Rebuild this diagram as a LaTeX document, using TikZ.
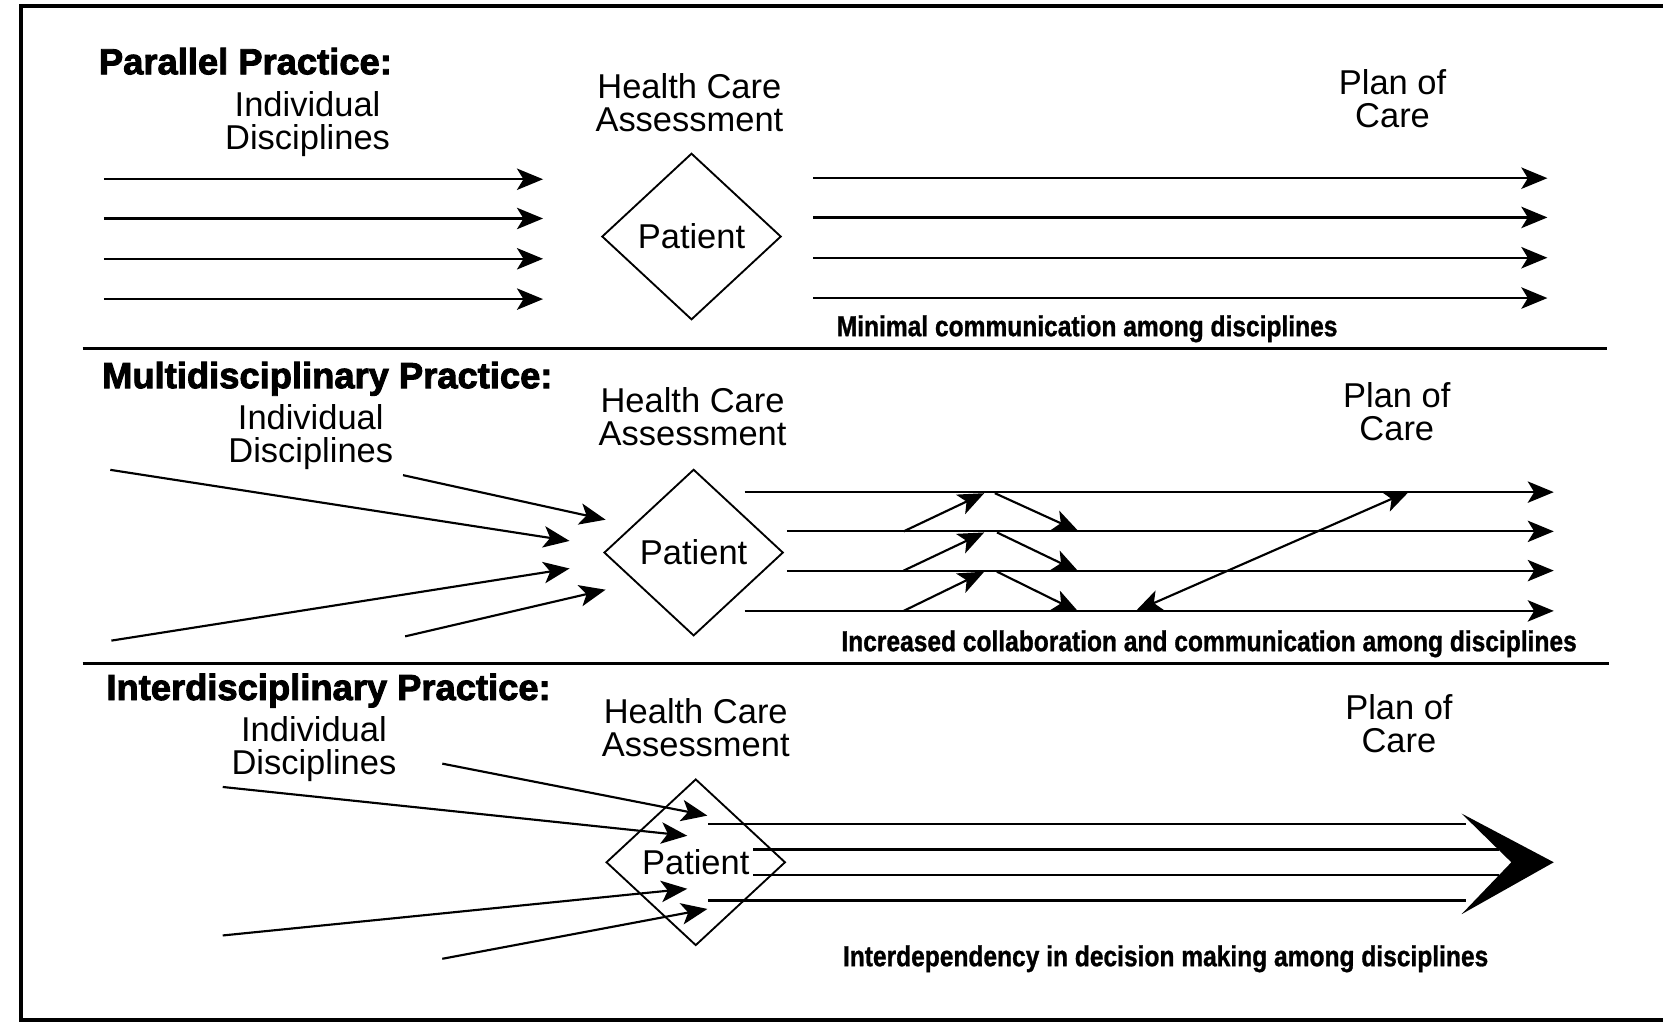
\documentclass[tikz,border=0pt]{standalone}
\usepackage{fontspec}
\setmainfont{Liberation Sans}
\newfontfamily\headfont[BoldFeatures={FakeBold=2.5}]{Liberation Sans}
\newfontfamily\notefont[FakeStretch=0.85, BoldFeatures={FakeBold=1}]{Liberation Sans}
\usetikzlibrary{arrows.meta, shapes.geometric}

\tikzset{
    lbl/.style={align=center, inner sep=0pt, font=\fontsize{18.5}{17.6}\selectfont},
    head/.style={anchor=base west, inner sep=0pt, font=\headfont\fontsize{19.5}{22}\selectfont\bfseries},
    note/.style={inner sep=0pt, font=\notefont\fontsize{15.5}{18}\selectfont\bfseries},
    pat/.style={diamond, draw, line width=1pt, inner sep=0pt, minimum width=3.38cm, minimum height=3.14cm, font=\fontsize{18.5}{20}\selectfont},
    tip/.tip={Stealth[length=14pt, width=11.5pt, inset=3.5pt]},
    arr/.style={line width=1.15pt, -tip},
    dbl/.style={line width=1.15pt, tip-tip},
    ln/.style={line width=1.15pt},
    rule/.style={line width=1.6pt},
}

\begin{document}
\begin{tikzpicture}[x=0.02cm, y=-0.02cm]
    \useasboundingbox (0, 0) rectangle (1568, 965);
    \draw[line width=2.2pt] (1568, 6) to (20, 6) to (20, 962) to (1568, 962);

        \node[head] at (93, 70)(t1){Parallel Practice:};
        \node[lbl] at (290, 117)(d1){Individual\\Disciplines};
        \node[lbl] at (650, 97)(h1){Health Care\\Assessment};
        \node[lbl] at (1313, 93)(c1){Plan of\\Care};
        \node[pat] at (652, 223)(p1){Patient};
        \node[note] at (1025, 310)(n1){Minimal communication among disciplines};

        \coordinate (in11) at (98, 169);    \coordinate (to11) at (512, 169);
        \coordinate (in12) at (98, 206);    \coordinate (to12) at (512, 206);
        \coordinate (in13) at (98, 244);    \coordinate (to13) at (512, 244);
        \coordinate (in14) at (98, 282);    \coordinate (to14) at (512, 282);
        \coordinate (out11) at (767, 168);  \coordinate (pc11) at (1459, 168);
        \coordinate (out12) at (767, 205);  \coordinate (pc12) at (1459, 205);
        \coordinate (out13) at (767, 243);  \coordinate (pc13) at (1459, 243);
        \coordinate (out14) at (767, 281);  \coordinate (pc14) at (1459, 281);

        \draw[arr](in11) to (to11);
        \draw[arr](in12) to (to12);
        \draw[arr](in13) to (to13);
        \draw[arr](in14) to (to14);
        \draw[arr](out11) to (pc11);
        \draw[arr](out12) to (pc12);
        \draw[arr](out13) to (pc13);
        \draw[arr](out14) to (pc14);

    \draw[rule](78, 329) to (1515, 329);

        \node[head] at (96, 366)(t2){Multidisciplinary Practice:};
        \node[lbl] at (293, 412)(d2){Individual\\Disciplines};
        \node[lbl] at (653, 393)(h2){Health Care\\Assessment};
        \node[lbl] at (1317, 388)(c2){Plan of\\Care};
        \node[pat] at (654, 521)(p2){Patient};
        \node[note] at (1140, 607)(n2){Increased collaboration and communication among disciplines};

        \coordinate (in21) at (104, 443);   \coordinate (to21) at (537, 510);
        \coordinate (in22) at (380, 448);   \coordinate (to22) at (571, 490);
        \coordinate (in23) at (105, 604);   \coordinate (to23) at (537, 536);
        \coordinate (in24) at (382, 600);   \coordinate (to24) at (571, 556);
        \coordinate (out21) at (702, 464);  \coordinate (pc21) at (1465, 464);
        \coordinate (out22) at (742, 501);  \coordinate (pc22) at (1465, 501);
        \coordinate (out23) at (742, 538);  \coordinate (pc23) at (1465, 538);
        \coordinate (out24) at (702, 576);  \coordinate (pc24) at (1465, 576);

        \draw[arr](in21) to (to21);
        \draw[arr](in22) to (to22);
        \draw[arr](in23) to (to23);
        \draw[arr](in24) to (to24);
        \draw[arr](out21) to (pc21);
        \draw[arr](out22) to (pc22);
        \draw[arr](out23) to (pc23);
        \draw[arr](out24) to (pc24);

        \coordinate (up21) at (852, 501);   \coordinate (hi21) at (928, 465);
        \coordinate (up22) at (852, 538);   \coordinate (hi22) at (928, 502);
        \coordinate (up23) at (852, 576);   \coordinate (hi23) at (928, 539);
        \coordinate (dn21) at (938, 465);   \coordinate (lo21) at (1017, 501);
        \coordinate (dn22) at (940, 502);   \coordinate (lo22) at (1017, 539);
        \coordinate (dn23) at (940, 539);   \coordinate (lo23) at (1017, 577);
        \coordinate (bk21) at (1071, 576);  \coordinate (bk22) at (1329, 463);

        \draw[arr](up21) to (hi21);
        \draw[arr](up22) to (hi22);
        \draw[arr](up23) to (hi23);
        \draw[arr](dn21) to (lo21);
        \draw[arr](dn22) to (lo22);
        \draw[arr](dn23) to (lo23);
        \draw[dbl](bk21) to (bk22);

    \draw[rule](78, 626) to (1517, 626);

        \node[head] at (100, 660)(t3){Interdisciplinary Practice:};
        \node[lbl] at (296, 706)(d3){Individual\\Disciplines};
        \node[lbl] at (656, 686)(h3){Health Care\\Assessment};
        \node[lbl] at (1319, 682)(c3){Plan of\\Care};
        \node[pat] at (656, 813)(p3){Patient};
        \node[note] at (1099, 904)(n3){Interdependency in decision making among disciplines};

        \coordinate (in31) at (417, 720);   \coordinate (to31) at (667, 769);
        \coordinate (in32) at (210, 742);   \coordinate (to32) at (648, 788);
        \coordinate (in33) at (210, 882);   \coordinate (to33) at (648, 838);
        \coordinate (in34) at (417, 904);   \coordinate (to34) at (667, 857);
        \coordinate (out31) at (668, 777);  \coordinate (pc31) at (1382, 777);
        \coordinate (out32) at (710, 801);  \coordinate (pc32) at (1413, 801);
        \coordinate (out33) at (710, 825);  \coordinate (pc33) at (1413, 825);
        \coordinate (out34) at (668, 849);  \coordinate (pc34) at (1382, 849);

        \draw[arr](in31) to (to31);
        \draw[arr](in32) to (to32);
        \draw[arr](in33) to (to33);
        \draw[arr](in34) to (to34);
        \draw[ln](out31) to (pc31);
        \draw[ln](out32) to (pc32);
        \draw[ln](out33) to (pc33);
        \draw[ln](out34) to (pc34);
        \fill(1378, 767) -- (1465, 813) -- (1378, 862) -- (1425, 813) -- cycle;
    \end{tikzpicture}
\end{document}
